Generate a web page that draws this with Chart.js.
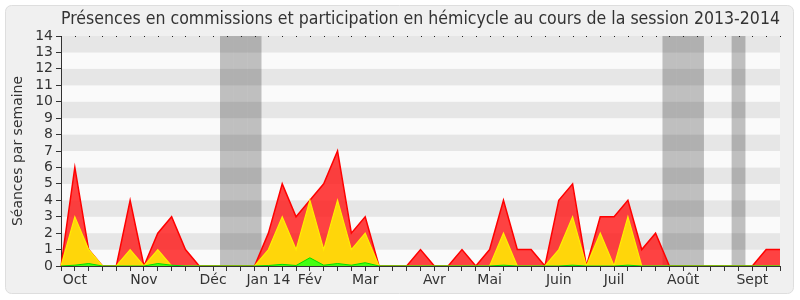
<!DOCTYPE html>
<html>
<head>
<meta charset="utf-8">
<script src="https://cdn.jsdelivr.net/npm/chart.js@4/dist/chart.umd.min.js"></script>
<style>
  body { margin: 0; background: #fff; }
</style>
</head>
<body>
<canvas id="sessionChart" width="800" height="300"></canvas>
<script>
// one point per week, session 2013-2014 (week 0 = end of september)
const weeks = [];
for (let i = 0; i < 53; i++) weeks.push(i);

// month labels and the week they sit under
const monthNames = ['Oct', 'Nov', 'Déc', 'Jan 14', 'Fév', 'Mar', 'Avr', 'Mai', 'Juin', 'Juil', 'Août', 'Sept'];
const monthWeeks = [1, 6, 11, 15, 18, 22, 27, 31, 36, 40, 45, 50];

// weeks of parliamentary holidays (grey columns)
const holidayWeeks = [12, 13, 14, 44, 45, 46, 49];

// séances par semaine
const hemicycle = [0, 6, 1, 0, 0, 4, 0, 2, 3, 1, 0, 0, 0, 0, 0, 2, 5, 3, 4, 5, 7, 2, 3, 0, 0, 0, 1,
    0, 0, 1, 0, 1, 4, 1, 1, 0, 4, 5, 0, 3, 3, 4, 1, 2, 0, 0, 0, 0, 0, 0, 0, 1, 1];
const commission = [0, 3, 1, 0, 0, 1, 0, 1, 0, 0, 0, 0, 0, 0, 0, 1, 3, 1, 4, 1, 4, 1, 2, 0, 0, 0, 0,
    0, 0, 0, 0, 0, 2, 0, 0, 0, 1, 3, 0, 2, 0, 3, 0, 0, 0, 0, 0, 0, 0, 0, 0, 0, 0];
const interventions = [0, 0.05, 0.15, 0, 0, 0, 0, 0.15, 0.05, 0, 0, 0, 0, 0, 0, 0.03, 0.1, 0.03, 0.5, 0.05, 0.15, 0.05, 0.2, 0, 0, 0, 0,
    0, 0, 0, 0, 0, 0.05, 0, 0, 0, 0, 0.05, 0, 0, 0, 0.05, 0, 0, 0, 0, 0, 0, 0, 0, 0, 0, 0];

const holidays = weeks.map(w => holidayWeeks.includes(w) ? 14 : null);
const tickLabels = weeks.map(w => {
    const k = monthWeeks.indexOf(w);
    return k >= 0 ? monthNames[k] : '';
});

const FONT = 'DejaVu Sans';

// panel, stripes and the dotted top edge
const decor = {
    id: 'decor',
    beforeDraw(chart) {
        const { ctx, chartArea: a, scales: { y } } = chart;
        ctx.save();
        ctx.fillStyle = '#fff';
        ctx.fillRect(0, 0, chart.width, chart.height);
        ctx.beginPath();
        ctx.roundRect(5.5, 5.5, 788, 288, 6);
        ctx.fillStyle = '#f0f0f0';
        ctx.fill();
        ctx.strokeStyle = '#dedede';
        ctx.stroke();
        for (let v = 0; v < 14; v++) {
            const top = y.getPixelForValue(v + 1);
            const bot = y.getPixelForValue(v);
            ctx.fillStyle = v % 2 ? '#e6e6e6' : '#fafafa';
            ctx.fillRect(a.left, top, a.right - a.left, bot - top);
        }
        ctx.restore();
    },
    afterDraw(chart) {
        const { ctx, chartArea: a, scales: { x } } = chart;
        ctx.save();
        ctx.fillStyle = '#222';
        for (let i = 0; i < weeks.length; i++) {
            ctx.fillRect(Math.round(x.getPixelForTick(i)), a.top, 1, 1);
        }
        ctx.restore();
    }
};

const ctx = document.getElementById('sessionChart').getContext('2d');

const sessionChart = new Chart(ctx, {
    type: 'line',
    data: {
        labels: weeks,
        datasets: [
            {
                label: 'Interventions',
                data: interventions,
                borderColor: '#00dd00',
                backgroundColor: '#44ff11',
                borderWidth: 1,
                fill: 'origin',
                pointRadius: 0,
                tension: 0,
                order: 0,
            },
            {
                label: 'Présences en commission',
                data: commission,
                borderColor: '#ffee00',
                backgroundColor: '#ffd60a',
                borderWidth: 1.2,
                fill: 'origin',
                pointRadius: 0,
                tension: 0,
                order: 0,
            },
            {
                label: 'Participation en hémicycle',
                data: hemicycle,
                borderColor: '#ff0000',
                backgroundColor: 'rgba(255, 20, 20, 0.8)',
                borderWidth: 1.5,
                fill: 'origin',
                pointRadius: 0,
                tension: 0,
                order: 0,
            },
            {
                type: 'bar',
                label: 'Vacances',
                data: holidays,
                backgroundColor: 'rgba(0, 0, 0, 0.235)',
                borderWidth: 0,
                inflateAmount: 0,
                barPercentage: 1,
                categoryPercentage: 1,
                order: 1,
            },
        ],
    },
    options: {
        responsive: false,
        animation: false,
        layout: { padding: { left: 0, right: 20, top: 0, bottom: 0 } },
        plugins: {
            legend: { display: false },
            tooltip: { enabled: false },
            title: {
                display: true,
                fullSize: false,
                text: 'Présences en commissions et participation en hémicycle au cours de la session 2013-2014',
                color: '#333',
                font: { family: 'DejaVu Sans Condensed', size: 18, weight: 'normal' },
                padding: { top: 9, bottom: 5.4 },
            },
        },
        scales: {
            x: {
                type: 'category',
                offset: false,
                afterFit: s => { s.height = 34; },
                grid: {
                    offset: false,
                    drawOnChartArea: false,
                    tickLength: 5,
                    color: '#333',
                },
                border: { color: '#333' },
                ticks: {
                    autoSkip: false,
                    maxRotation: 0,
                    padding: 1,
                    color: '#333',
                    font: { family: FONT, size: 14 },
                    callback: (v, i) => tickLabels[i],
                },
            },
            y: {
                min: 0,
                max: 14,
                afterFit: s => { s.width = 61; },
                grid: {
                    drawOnChartArea: false,
                    tickLength: 5,
                    color: '#333',
                },
                border: { color: '#333' },
                ticks: {
                    stepSize: 1,
                    autoSkip: false,
                    padding: 3,
                    color: '#333',
                    font: { family: FONT, size: 14 },
                },
                title: {
                    display: true,
                    text: 'Séances par semaine',
                    color: '#333',
                    font: { family: FONT, size: 14 },
                    padding: { top: 10, bottom: 0 },
                },
            },
        },
    },
    plugins: [decor],
});
</script>
</body>
</html>
